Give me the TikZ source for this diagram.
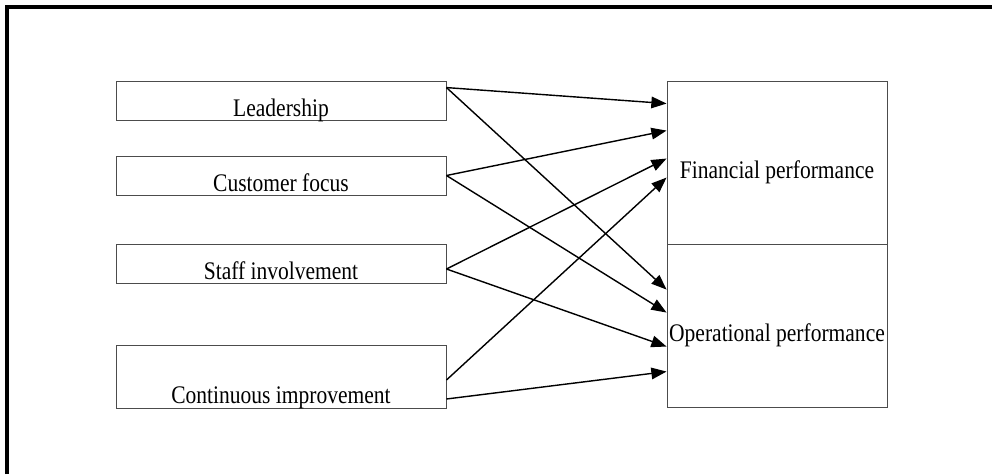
\documentclass[tikz,border=0pt]{standalone}
\usepackage{fontspec}
\setmainfont{Liberation Serif}
\usepackage{graphicx}
\usepackage{tikz}
\usetikzlibrary{calc, arrows.meta}
\newcommand{\squeezed}[1]{\scalebox{0.85}[1]{#1}}

\begin{document}
\begin{tikzpicture}[x=0.025cm, y=-0.025cm]
\tikzstyle{factor}=[draw=black!70, line width=0.6pt, minimum width=8.25cm, minimum height=0.975cm, inner sep=0pt, text height=0.875cm, text depth=0.1cm, font=\fontsize{18}{21}\selectfont]
\tikzstyle{outcome}=[draw=black!70, line width=0.6pt, minimum width=5.5cm, minimum height=4.075cm, inner sep=0pt, text height=0.9cm, text depth=0.125cm, font=\fontsize{18}{21}\selectfont]
\tikzstyle{link}=[line width=1pt, -{Triangle[length=0.38cm, width=0.29cm]}]
\useasboundingbox (0,0) rectangle (992,474);
\draw[line width=2.2pt] (7,474) -- (7,7) -- (992,7);
% factors
\node[factor] (lead) at (281,100.5) {\squeezed{Leadership}};
\node[factor] (cust) at (281,175.5) {\squeezed{Customer focus}};
\node[factor] (staff) at (281,263.5) {\squeezed{Staff involvement}};
\node[factor, minimum height=1.575cm, text height=1.45cm, text depth=0.125cm] (cont) at (281,376.5) {\squeezed{Continuous improvement}};
% outcomes
\node[outcome] (fin) at (777,162.5) {\squeezed{Financial performance}};
\node[outcome] (op) at (777,325.5) {\squeezed{Operational performance}};
% links
\draw[link] ($(lead.north east)+(0,7)$) -- ($(fin.north west)+(0,23)$);
\draw[link] ($(lead.north east)+(0,7)$) -- ($(op.north west)+(0,46)$);
\draw[link] (cust.east) -- ($(fin.north west)+(0,50)$);
\draw[link] (cust.east) -- ($(op.north west)+(0,69)$);
\draw[link] ($(staff.east)+(0,5.5)$) -- ($(fin.north west)+(0,78)$);
\draw[link] ($(staff.east)+(0,5.5)$) -- ($(op.north west)+(0,103)$);
\draw[link] ($(cont.east)+(0,3.5)$) -- ($(fin.north west)+(0,97)$);
\draw[link] ($(cont.east)+(0,22.5)$) -- ($(op.north west)+(0,128)$);
\end{tikzpicture}
\end{document}
